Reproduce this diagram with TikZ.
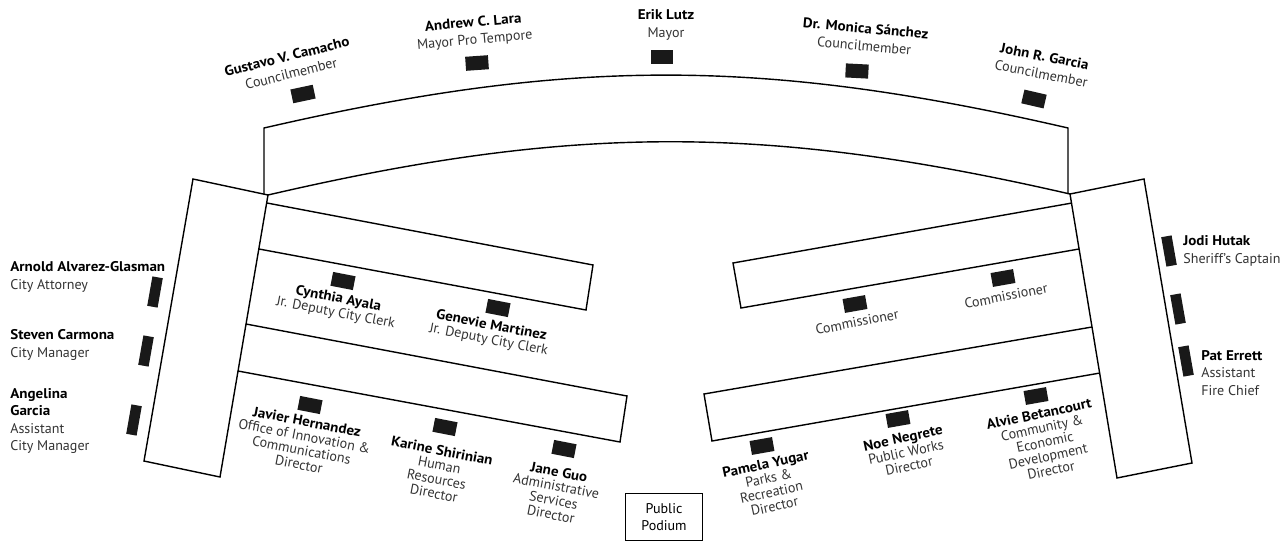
\documentclass[tikz,border=0pt]{standalone}
\usepackage{fontspec}
\setmainfont{PT Sans}[BoldFeatures={FakeStretch=1.07}]
\usetikzlibrary{positioning}

\newcommand{\nm}[1]{{\bfseries\color{black}#1}}

\begin{document}
\begin{tikzpicture}[
    x=0.02cm, y=-0.02cm,
    desk/.style={draw=black, line width=0.8pt, line join=miter},
    seat/.style={fill=black!90, inner sep=0pt,
        minimum width=13pt, minimum height=8pt},
    sideseat/.style={fill=black!90, inner sep=0pt,
        minimum width=6pt, minimum height=17pt},
    who/.style={font=\fontsize{8}{10}\selectfont, align=center,
        inner sep=0pt, text=black!80},
    tbl/.style={who, font=\fontsize{8}{8.2}\selectfont},
    side/.style={who, align=left, anchor=west}
]
\useasboundingbox (0,0) rectangle (1286,542);

% dais
\draw[desk] (264,194) -- (264,128) to[bend left=13] (1068,128) -- (1068,194);
\draw[desk] (268,195) to[bend left=13] (1070,194);

% side desks
\draw[desk] (193,179) -- (268,195) -- (220,477) -- (144,461) -- cycle;
\draw[desk] (1070,194) -- (1144,179) -- (1192,463) -- (1117,478) -- cycle;

% staff tables
\draw[desk] (267,203) -- (593,265) -- (586,310) -- (259,249);
\draw[desk] (246,324) -- (627,396) -- (620,442) -- (238,371);
\draw[desk] (1072,203) -- (733,263) -- (741,308) -- (1079,249);
\draw[desk] (1092,327) -- (704,394) -- (712,441) -- (1100,373);

% podium
\node[desk, minimum width=44pt, minimum height=27pt, inner sep=0pt,
      font=\fontsize{8}{9.5}\selectfont, align=center] (podium) at (664,517) {Public\\Podium};

% council
\node[seat, rotate=12] (sCamacho) at (303,94) {};
\node[seat, rotate=4]  (sLara)    at (477,63) {};
\node[seat]            (sLutz)    at (662,57) {};
\node[seat, rotate=-3] (sSanchez) at (857,71) {};
\node[seat, rotate=-13] (sGarcia) at (1034,99) {};

\node[who, rotate=14] (camacho) at (289,65) {\nm{Gustavo V. Camacho}\\Councilmember};
\node[who, rotate=5]  (lara)    at (474,32) {\nm{Andrew C. Lara}\\Mayor Pro Tempore};
\node[who]            (lutz)    at (666,25) {\nm{Erik Lutz}\\Mayor};
\node[who, rotate=-5] (sanchez) at (865,37) {\nm{Dr. Monica Sánchez}\\Councilmember};
\node[who, rotate=-11] (garcia) at (1043,65) {\nm{John R. Garcia}\\Councilmember};

% left side
\node[sideseat, rotate=-10] (sAlvarez)  at (155,292) {};
\node[sideseat, rotate=-10] (sCarmona)  at (146,351) {};
\node[sideseat, rotate=-10] (sAngelina) at (134,420) {};

\node[side] (alvarez)  at (10,277) {\nm{Arnold Alvarez-Glasman}\\City Attorney};
\node[side] (carmona)  at (10,345) {\nm{Steven Carmona}\\City Manager};
\node[side] (angelina) at (10,421) {\nm{Angelina}\\\nm{Garcia}\\Assistant\\City Manager};

% right side
\node[sideseat, rotate=10] (sHutak)  at (1169,251) {};
\node[sideseat, rotate=10] (sEmpty)  at (1178,309) {};
\node[sideseat, rotate=10] (sErrett) at (1186,361) {};

\node[side] (hutak)  at (1183,251) {\nm{Jodi Hutak}\\Sheriff's Captain};
\node[side] (errett) at (1201,373) {\nm{Pat Errett}\\Assistant\\Fire Chief};

% left tables
\node[seat, rotate=-11] (sAyala)    at (343,281) {};
\node[seat, rotate=-11] (sMartinez) at (498,308) {};
\node[seat, rotate=-11] (sHernandez) at (310,405) {};
\node[seat, rotate=-11] (sShirinian) at (445,427) {};
\node[seat, rotate=-11] (sGuo)      at (564,449) {};

\node[tbl, rotate=-11] (ayala)    at (337,306) {\nm{Cynthia Ayala}\\Jr. Deputy City Clerk};
\node[tbl, rotate=-11] (martinez) at (490,333) {\nm{Genevie Martinez}\\Jr. Deputy City Clerk};
\node[tbl, rotate=-11] (hernandez) at (303,443) {\nm{Javier Hernandez}\\Office of Innovation \&\\Communications\\Director};
\node[tbl, rotate=-11] (shirinian) at (438,472) {\nm{Karine Shirinian}\\Human\\Resources\\Director};
\node[tbl, rotate=-11] (guo)      at (555,493) {\nm{Jane Guo}\\Administrative\\Services\\Director};

% right tables
\node[seat, rotate=10] (sComm1)  at (855,304) {};
\node[seat, rotate=10] (sComm2)  at (1003,278) {};
\node[seat, rotate=10] (sYugar)  at (762,446) {};
\node[seat, rotate=10] (sNegrete) at (898,419) {};
\node[seat, rotate=10] (sBetancourt) at (1036,396) {};

\node[tbl, rotate=11] (comm1) at (857,322) {Commissioner};
\node[tbl, rotate=11] (comm2) at (1006,296) {Commissioner};
\node[tbl, rotate=12] (yugar)   at (770,485) {\nm{Pamela Yugar}\\Parks \&\\Recreation\\Director};
\node[tbl, rotate=12] (negrete) at (906,452) {\nm{Noe Negrete}\\Public Works\\Director};
\node[tbl, rotate=12] (betancourt) at (1045,442) {\nm{Alvie Betancourt}\\Community \&\\Economic\\Development\\Director};

\end{tikzpicture}
\end{document}
